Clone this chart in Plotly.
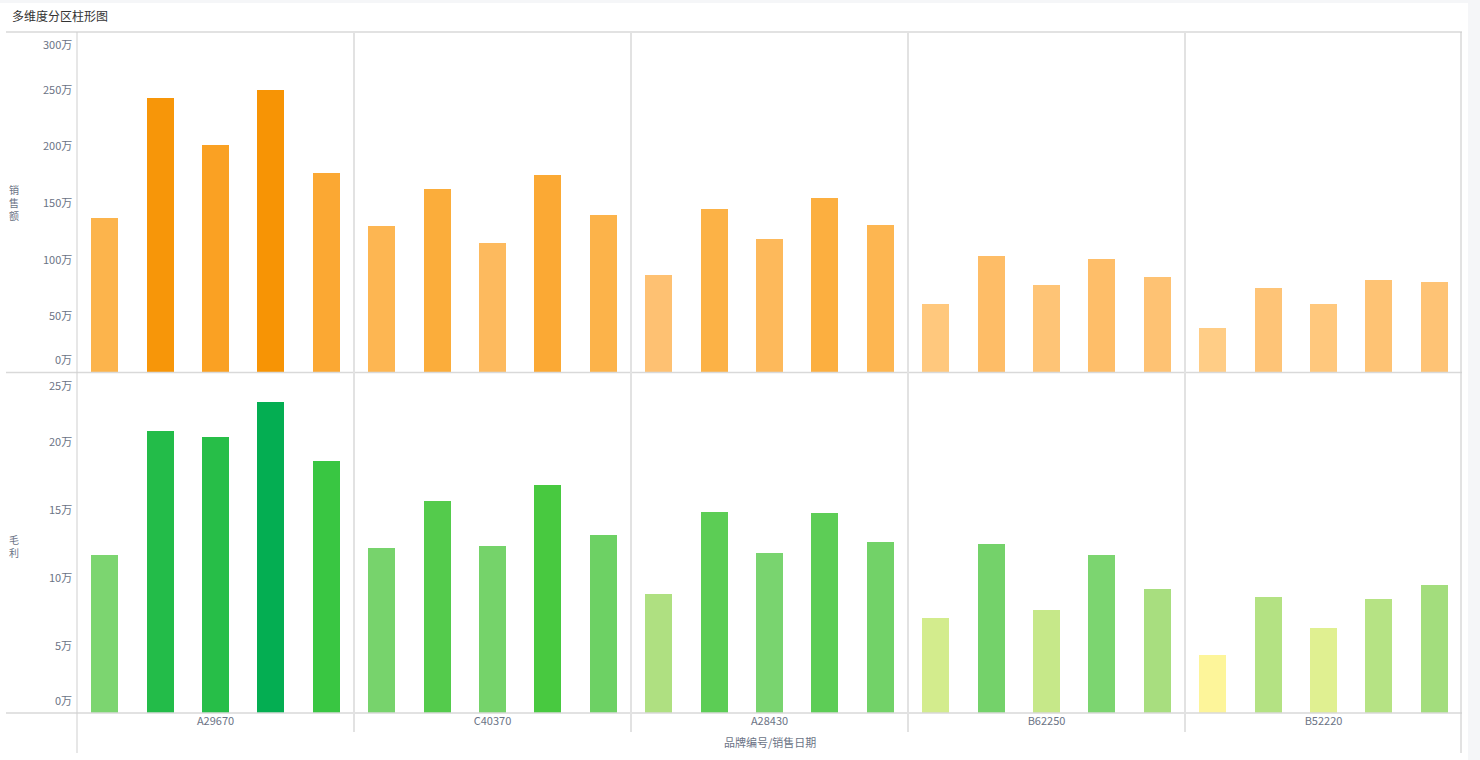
import plotly.graph_objects as go

# ---------------- data ----------------
brands = ["A29670", "C40370", "A28430", "B62250", "B52220"]
dates_per_brand = 5
# 销售额 (单位: 万)
sales = [135.9, 241.8, 200.3, 248.8, 175.6,
         128.8, 161.5, 113.8, 173.8, 138.5,
         85.6, 143.8, 117.4, 153.5, 129.7,
         60.0, 102.4, 76.8, 99.7, 83.8,
         38.8, 74.1, 60.0, 81.2, 79.4]
# 毛利 (单位: 万)
profit = [11.6, 20.7, 20.3, 22.9, 18.5,
          12.1, 15.6, 12.3, 16.8, 13.1,
          8.75, 14.8, 11.8, 14.7, 12.6,
          7.0, 12.4, 7.6, 11.6, 9.1,
          4.3, 8.5, 6.25, 8.4, 9.4]
sales_ticks = [0, 50, 100, 150, 200, 250, 300]
profit_ticks = [0, 5, 10, 15, 20, 25]
tick_suffix = "万"
title_text = "多维度分区柱形图"
x_title = "品牌编号/销售日期"
y1_title = "销售额"
y2_title = "毛利"

# ---------------- styles ----------------
W, H = 1480, 760
L, R, T, B = 77, 18, 32, 47
plot_w = W - L - R
plot_h = H - T - B
FONT = "Noto Sans CJK SC, Noto Sans, sans-serif"
LABEL_C = "#6b7385"

orange_scale = [[0.0, "#ffcd86"], [0.25, "#fec070"], [0.5, "#fcb246"],
                [0.75, "#faa226"], [1.0, "#f79405"]]
green_scale = [[0.0, "#fdf59a"], [0.12, "#dcef90"], [0.25, "#abdf80"],
               [0.4, "#7ad46f"], [0.55, "#5fcd58"], [0.68, "#46c93e"],
               [0.8, "#33c444"], [0.9, "#1fba4a"], [1.0, "#04ae52"]]

x_idx = list(range(len(sales)))

fig = go.Figure()
fig.add_trace(go.Bar(
    x=x_idx, y=sales, xaxis="x", yaxis="y", width=0.49,
    marker=dict(color=sales, colorscale=orange_scale, cmin=min(sales),
                cmax=max(sales), line=dict(width=0)),
    name=y1_title, showlegend=False,
))
fig.add_trace(go.Bar(
    x=x_idx, y=profit, xaxis="x", yaxis="y2", width=0.49,
    marker=dict(color=profit, colorscale=green_scale, cmin=min(profit),
                cmax=max(profit), line=dict(width=0)),
    name=y2_title, showlegend=False,
))

def py(px_y):
    return (T + plot_h - px_y) / plot_h

def px_x(px):
    return (px - L) / plot_w

split = 0.5
n_groups = len(brands)
centers = [g * dates_per_brand + (dates_per_brand - 1) / 2 for g in range(n_groups)]

fig.update_layout(
    width=W, height=H, autosize=False,
    margin=dict(l=L, r=R, t=T, b=B),
    paper_bgcolor="#f5f6f8", plot_bgcolor="rgba(0,0,0,0)",
    font=dict(family=FONT, size=11, color=LABEL_C),
    bargap=0,
    xaxis=dict(anchor="y2", range=[-0.5, len(sales) - 0.5],
               tickvals=centers, ticktext=brands, ticks="",
               showgrid=False, zeroline=False, showline=False,
               tickfont=dict(size=11, color=LABEL_C), fixedrange=True),
    yaxis=dict(domain=[split + 0.0007, 1], range=[0, 300], showgrid=False,
               zeroline=False, showticklabels=False, fixedrange=True),
    yaxis2=dict(domain=[0, split - 0.0007], range=[0, 25], showgrid=False,
                zeroline=False, showticklabels=False, fixedrange=True),
    hovermode=False,
)

shapes = []
# white card
shapes.append(dict(type="rect", xref="paper", yref="paper",
                   x0=px_x(0), x1=px_x(1468), y0=py(H + 5), y1=py(3),
                   fillcolor="white", line=dict(width=0), layer="below"))
# horizontal rules
for yy in [1.0, split, 0.0]:
    shapes.append(dict(type="line", xref="paper", yref="paper",
                       x0=px_x(6), x1=1, y0=yy, y1=yy,
                       line=dict(color="#d9d9d9", width=1.5)))
# left axis line
shapes.append(dict(type="line", xref="paper", yref="paper",
                   x0=0, x1=0, y0=py(753), y1=1,
                   line=dict(color="#cfcfcf", width=1)))
# right border
shapes.append(dict(type="line", xref="paper", yref="paper",
                   x0=px_x(1461), x1=px_x(1461), y0=py(753), y1=1,
                   line=dict(color="#cfcfcf", width=1.2)))
# group separators
for g in range(1, n_groups):
    xs = g * dates_per_brand - 0.5
    shapes.append(dict(type="line", xref="x", yref="paper",
                       x0=xs, x1=xs, y0=py(732), y1=1,
                       line=dict(color="#e2e2e2", width=2)))
fig.update_layout(shapes=shapes)

ann = []
ann.append(dict(text=title_text, xref="paper", yref="paper",
                x=px_x(10), y=py(15), xanchor="left", yanchor="middle",
                showarrow=False, font=dict(size=12, color="#333333")))

def tick_ann(vals, yref, top_val):
    for v in vals:
        if v == top_val:
            ya, ys = "top", -2
        elif v == 0:
            ya, ys = "bottom", 3
        else:
            ya, ys = "middle", 0
        ann.append(dict(text=f"{v}{tick_suffix}", xref="paper", yref=yref,
                        x=0, y=v, xanchor="right", yanchor=ya, xshift=-3,
                        yshift=ys, showarrow=False,
                        font=dict(size=11, color=LABEL_C)))

tick_ann(sales_ticks, "y", max(sales_ticks))
tick_ann(profit_ticks, "y2", max(profit_ticks))

ann.append(dict(text="<br>".join(list(y1_title)), xref="paper", yref="paper",
                x=px_x(14), y=py(203), xanchor="center", yanchor="middle",
                showarrow=False, font=dict(size=10, color=LABEL_C)))
ann.append(dict(text="<br>".join(list(y2_title)), xref="paper", yref="paper",
                x=px_x(14), y=py(546), xanchor="center", yanchor="middle",
                showarrow=False, font=dict(size=10, color=LABEL_C)))
ann.append(dict(text=x_title, xref="paper", yref="paper",
                x=0.5, y=py(742), xanchor="center", yanchor="middle",
                showarrow=False, font=dict(size=11, color=LABEL_C)))
fig.update_layout(annotations=ann)

fig.write_html("out.html", config={"displayModeBar": False},
               post_script="document.body.style.margin='0';document.body.style.overflow='hidden';")
